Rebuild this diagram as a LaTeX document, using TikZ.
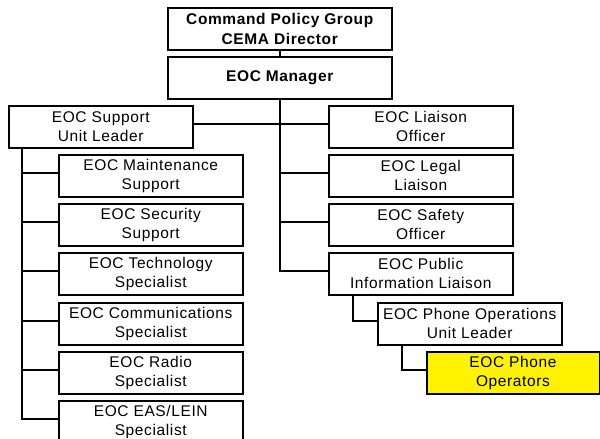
\documentclass[tikz,border=0pt]{standalone}
\usepackage{fontspec}
\setmainfont{Liberation Sans}[LetterSpace=4]
\begin{document}
\begin{tikzpicture}[x=1pt,y=-1pt,
  box/.style={draw=black,line width=1.5pt,fill=white,anchor=north west,
    minimum width=184pt,minimum height=42pt,inner sep=0pt,align=center,
    font=\fontsize{15.5}{19}\selectfont},
  widebox/.style={box,minimum width=224pt,font=\fontsize{15.5}{20}\selectfont\bfseries},
  hilite/.style={box,fill=yellow,minimum width=172.5pt},
  link/.style={draw=black,line width=1.5pt}]
\useasboundingbox (0,0) rectangle (600,439);
\begin{scope}
\clip (0,0) rectangle (600,439);
% top of the chart
\node[widebox] (cpg) at (167,7) {Command Policy Group\\CEMA Director};
\node[widebox] (mgr) at (167,56) {EOC Manager};
% support branch
\node[box] (sup) at (8,105) {EOC Support\\Unit Leader};
\node[box] (maint) at (58,154) {EOC Maintenance\\Support};
\node[box] (secu) at (58,203) {EOC Security\\Support};
\node[box] (tech) at (58,252) {EOC Technology\\Specialist};
\node[box] (comm) at (58,302) {EOC Communications\\Specialist};
\node[box] (radio) at (58,351) {EOC Radio\\Specialist};
\node[box] (eas) at (58,400) {EOC EAS/LEIN\\Specialist};
% staff branch
\node[box] (liai) at (328,105) {EOC Liaison\\Officer};
\node[box] (legal) at (328,154) {EOC Legal\\Liaison};
\node[box] (safe) at (328,203) {EOC Safety\\Officer};
\node[box] (pub) at (328,252) {EOC Public\\Information Liaison};
\node[box] (pul) at (377,302) {EOC Phone Operations\\Unit Leader};
\node[hilite] (ops) at (426,351) {EOC Phone\\Operators};
% connectors
\begin{scope}[on background layer/.style={}]
\path[link] (cpg.south) -- (mgr.north);
\path[link] (mgr.south) |- ([yshift=3pt]pub.west);
\path[link] ([yshift=3pt]sup.east) -- ([yshift=3pt]liai.west);
\path[link] (mgr.south) |- ([yshift=3pt]legal.west);
\path[link] (mgr.south) |- ([yshift=3pt]safe.west);
\foreach \c in {maint,secu,tech,comm,radio,eas}
  \path[link] ([xshift=14pt]sup.south west) |- ([yshift=3pt]\c.west);
\path[link] ([xshift=25pt]pub.south west) |- ([yshift=3pt]pul.west);
\path[link] ([xshift=25pt]pul.south west) |- ([yshift=3pt]ops.west);
\end{scope}
\end{scope}
\end{tikzpicture}
\end{document}
